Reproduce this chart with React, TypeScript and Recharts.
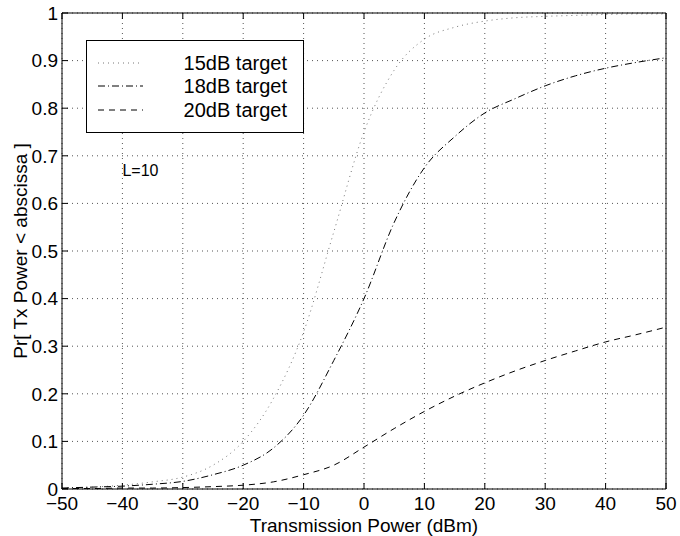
import { LineChart, Line, XAxis, YAxis, CartesianGrid, ReferenceDot } from 'recharts';

const power = [-50, -45, -40, -35, -30, -25, -20, -15, -10, -5, 0, 5, 10, 15, 20, 25, 30, 35, 40, 45, 50];
const target15 = [0.002, 0.004, 0.008, 0.015, 0.025, 0.05, 0.1, 0.19, 0.33, 0.54, 0.75, 0.88, 0.945, 0.97, 0.983, 0.99, 0.993, 0.995, 0.997, 0.998, 0.998];
const target18 = [0.002, 0.004, 0.006, 0.01, 0.016, 0.03, 0.05, 0.086, 0.155, 0.27, 0.4, 0.56, 0.675, 0.74, 0.79, 0.82, 0.847, 0.868, 0.884, 0.896, 0.906];
const target20 = [0.001, 0.001, 0.002, 0.002, 0.003, 0.005, 0.008, 0.015, 0.03, 0.05, 0.088, 0.127, 0.163, 0.195, 0.223, 0.248, 0.27, 0.29, 0.309, 0.324, 0.34];

const xTicks = [-50, -40, -30, -20, -10, 0, 10, 20, 30, 40, 50];
const yTicks = [0, 0.1, 0.2, 0.3, 0.4, 0.5, 0.6, 0.7, 0.8, 0.9, 1];

const series = [
  { key: 't15', name: '15dB target', color: '#777', dash: '1 4' },
  { key: 't18', name: '18dB target', color: '#000', dash: '7 3 1 3' },
  { key: 't20', name: '20dB target', color: '#000', dash: '6 5' },
];

const data = power.map((p, i) => ({ p, t15: target15[i], t18: target18[i], t20: target20[i] }));

const FONT = '"Liberation Sans", Arial, Helvetica, sans-serif';
const fmt = (v: number) => String(v).replace('-', '\u2212');

// legend box drawn on top of the chart, like matlab's
function LegendBox() {
  return (
    <svg width={218} height={93} style={{ position: 'absolute', left: 86, top: 40, display: 'block' }}>
      <rect x={0.5} y={0.5} width={217} height={92} fill="#fff" stroke="#000" />
      {series.map((s, i) => {
        const y = [23, 46, 70][i];
        return (
          <g key={s.key}>
            <line x1={12} x2={57} y1={y} y2={y} stroke={s.color} strokeDasharray={s.dash} />
            <text x={201} y={y + 7} textAnchor="end" fontSize={20} fontFamily={FONT} fill="#000">{s.name}</text>
          </g>
        );
      })}
    </svg>
  );
}

export default function App() {
  return (
    <div style={{ position: 'absolute', left: 0, top: 0, width: 680, height: 536, background: '#fff' }}>
      <LineChart width={680} height={536} data={data} margin={{ top: 13, right: 14, left: 0, bottom: 0 }}>
        <CartesianGrid stroke="#555" strokeDasharray="1 4" />
        <XAxis
          dataKey="p"
          type="number"
          domain={[-50, 50]}
          ticks={xTicks}
          tickFormatter={fmt}
          height={47}
          tickSize={-6}
          tickMargin={14}
          stroke="#000"
          tick={{ fill: '#000', fontSize: 19, fontFamily: FONT }}
          label={{ value: 'Transmission Power (dBm)', position: 'insideBottom', offset: 4, fill: '#000', fontSize: 19, fontFamily: FONT }}
        />
        <XAxis xAxisId="top" dataKey="p" type="number" orientation="top" mirror domain={[-50, 50]} ticks={xTicks} tickFormatter={() => ''} tickSize={6} stroke="#000" />
        <YAxis
          type="number"
          domain={[0, 1]}
          ticks={yTicks}
          width={62}
          tickSize={-6}
          tickMargin={10}
          stroke="#000"
          tick={{ fill: '#000', fontSize: 19, fontFamily: FONT }}
          label={{
            content: ({ viewBox }: any) => (
              <text
                x={viewBox.x + 22}
                y={viewBox.y + viewBox.height / 2}
                transform={`rotate(-90 ${viewBox.x + 22} ${viewBox.y + viewBox.height / 2})`}
                textAnchor="middle"
                dominantBaseline="middle"
                fontSize={19}
                fontFamily={FONT}
                fill="#000"
              >
                Pr[ Tx Power &lt; abscissa ]
              </text>
            ),
          }}
        />
        <YAxis yAxisId="right" type="number" orientation="right" mirror domain={[0, 1]} ticks={yTicks} tickFormatter={() => ''} tickSize={6} stroke="#000" />
        {series.map((s) => (
          <Line
            key={s.key}
            type="monotone"
            dataKey={s.key}
            name={s.name}
            stroke={s.color}
            strokeWidth={1}
            strokeDasharray={s.dash}
            dot={false}
            isAnimationActive={false}
          />
        ))}
        <ReferenceDot
          x={-40}
          y={0.67}
          r={0}
          label={{
            content: ({ viewBox }: any) => (
              <text x={viewBox.x} y={viewBox.y + 6} fontSize={16} fontFamily={FONT} fill="#000">L=10</text>
            ),
          }}
        />
      </LineChart>
      <LegendBox />
    </div>
  );
}
